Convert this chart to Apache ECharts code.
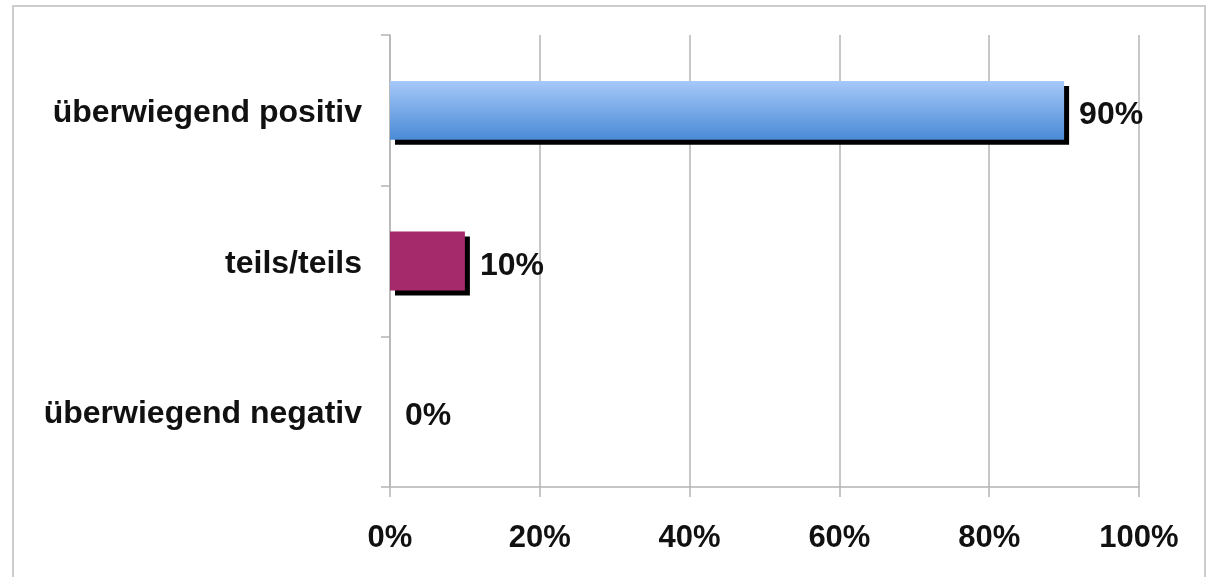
<!DOCTYPE html>
<html>
<head>
<meta charset="utf-8">
<script src="https://cdn.jsdelivr.net/npm/echarts@6/dist/echarts.min.js"></script>
<style>
  html, body { margin: 0; padding: 0; background: #fff; }
  #chart { width: 1209px; height: 577px; }
</style>
</head>
<body>
<div id="chart"></div>
<script>
const categories = ['überwiegend positiv', 'teils/teils', 'überwiegend negativ'];
const values = [90, 10, 0];
const xTicks = [0, 20, 40, 60, 80, 100];

const FONT = '"Liberation Sans", Arial, sans-serif';
const barColors = [
  new echarts.graphic.LinearGradient(0, 0, 0, 1, [
    { offset: 0, color: '#a6c9f9' },
    { offset: 1, color: '#4a8ad6' }
  ]),
  '#a52a6c',
  '#4a8ad6'
];

const chart = echarts.init(document.getElementById('chart'));

chart.setOption({
  animation: false,
  backgroundColor: '#fff',
  graphic: [{
    type: 'rect',
    silent: true,
    shape: { x: 13, y: 6, width: 1192, height: 620 },
    style: { fill: 'none', stroke: '#cdcdcd', lineWidth: 2 }
  }],
  grid: {
    left: 390,
    right: 70,
    top: 35,
    bottom: 90,
    containLabel: false
  },
  xAxis: {
    type: 'value',
    min: xTicks[0],
    max: xTicks[xTicks.length - 1],
    interval: 20,
    axisLine: { show: true, lineStyle: { color: '#b4b4b4', width: 1.5 } },
    axisTick: { show: true, length: 10, lineStyle: { color: '#b4b4b4', width: 1.5 } },
    splitLine: { show: true, lineStyle: { color: '#b4b4b4', width: 1.5 } },
    axisLabel: {
      margin: 36,
      color: '#111',
      fontFamily: FONT,
      fontWeight: 'bold',
      fontSize: 31,
      formatter: v => v + '%'
    }
  },
  yAxis: {
    type: 'category',
    inverse: true,
    data: categories,
    axisLine: { show: true, lineStyle: { color: '#b4b4b4', width: 1.5 } },
    axisTick: { show: true, length: 9, lineStyle: { color: '#b4b4b4', width: 1.5 } },
    splitLine: { show: false },
    axisLabel: {
      margin: 28,
      color: '#111',
      fontFamily: FONT,
      fontWeight: 'bold',
      fontSize: 32,
      verticalAlign: 'top',
      lineHeight: 6
    }
  },
  series: [{
    type: 'bar',
    barWidth: '39%',
    data: values.map((v, i) => ({
      value: v,
      itemStyle: { color: barColors[i] }
    })),
    itemStyle: {
      shadowColor: '#000',
      shadowBlur: 0,
      shadowOffsetX: 5,
      shadowOffsetY: 5
    },
    label: {
      show: true,
      position: 'right',
      distance: 15,
      offset: [0, 5],
      color: '#111',
      fontFamily: FONT,
      fontWeight: 'bold',
      fontSize: 32,
      formatter: p => p.value + '%'
    }
  }]
});
</script>
</body>
</html>
